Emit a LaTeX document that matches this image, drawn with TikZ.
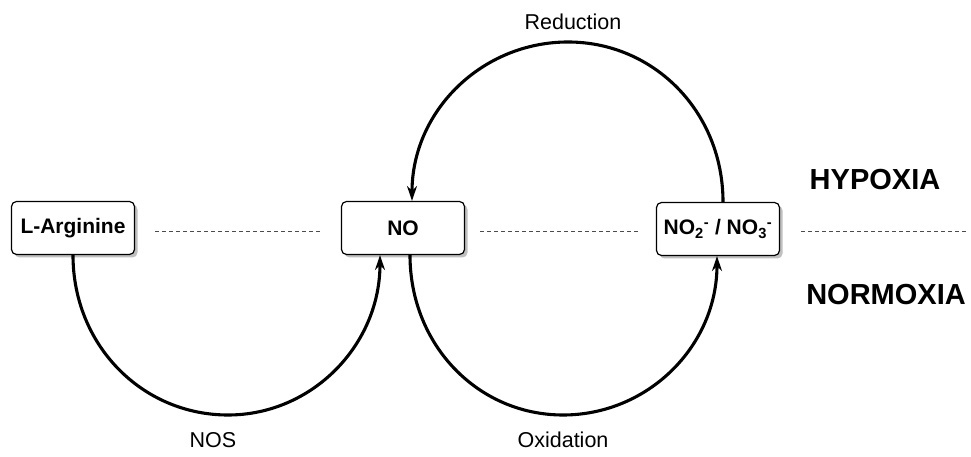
\documentclass[tikz,border=0pt]{standalone}
\usepackage{fontspec}
\setmainfont{Liberation Sans}
\usepackage{tikz}
\usetikzlibrary{arrows.meta,positioning,calc,shadows}

\begin{document}
\begin{tikzpicture}[
    x=1pt, y=1pt,
    species/.style={rectangle, draw, line width=1.2pt, rounded corners=5pt, fill=white,
        minimum width=123pt, minimum height=53pt, align=center,
        font=\fontsize{21}{25}\selectfont\bfseries,
        drop shadow={shadow xshift=3pt, shadow yshift=-3pt, fill=black!25, opacity=1}},
    turn/.style={line width=3.1pt, -{Stealth[length=15pt, width=10pt]}},
    level/.style={draw=black!70, line width=0.9pt, dash pattern=on 4pt off 3pt},
    tag/.style={font=\fontsize{21.5}{25}\selectfont},
    zone/.style={font=\fontsize{29}{33}\selectfont\bfseries}
]
    \useasboundingbox (0,0) rectangle (971,457);

    % Species
    \node[species] (larg) at (73,229) {L-Arginine};
    \node[species] (no) at (403,229) {NO};
    \node[species] (nox) at (718,228) {NO\textsubscript{2}\textsuperscript{-} / NO\textsubscript{3}\textsuperscript{-}};

    % Oxygen levels
    \coordinate (lineend) at (966,226);
    \draw[level] ([xshift=20pt, yshift=-3pt]larg.east) -- ([xshift=-21pt, yshift=-3pt]no.west);
    \draw[level] ([xshift=15pt, yshift=-3pt]no.east) -- ([xshift=-18pt, yshift=-2pt]nox.west);
    \draw[level] ([xshift=21pt, yshift=-2pt]nox.east) -- (lineend);
    \node[zone] (hypoxia) at (875,277) {HYPOXIA};
    \node[zone] (normoxia) at (886,162) {NORMOXIA};

    % Turning points of the cycles
    \coordinate (nosbot) at (228,42);
    \coordinate (oxbot) at (563,42);
    \coordinate (redtop) at (568,415);

    % Conversions
    \draw[turn] (larg.south) to[out=-90, in=180, out distance=90pt, in distance=86pt] (nosbot)
        to[out=0, in=-90, out distance=84pt, in distance=90pt] ([xshift=-23pt]no.south);
    \draw[turn] ([xshift=7pt]no.south) to[out=-90, in=180, out distance=90pt, in distance=85pt] (oxbot)
        to[out=0, in=-90, out distance=85pt, in distance=90pt] ([xshift=-1pt]nox.south);
    \draw[turn] ([xshift=5pt]nox.north) to[out=90, in=0, out distance=90pt, in distance=86pt] (redtop)
        to[out=180, in=90, out distance=86pt, in distance=90pt] ([xshift=9pt]no.north);
    \node[tag] (nos) at (213,17) {NOS};
    \node[tag] (oxid) at (563,17) {Oxidation};
    \node[tag] (red) at (573,435) {Reduction};
\end{tikzpicture}
\end{document}
